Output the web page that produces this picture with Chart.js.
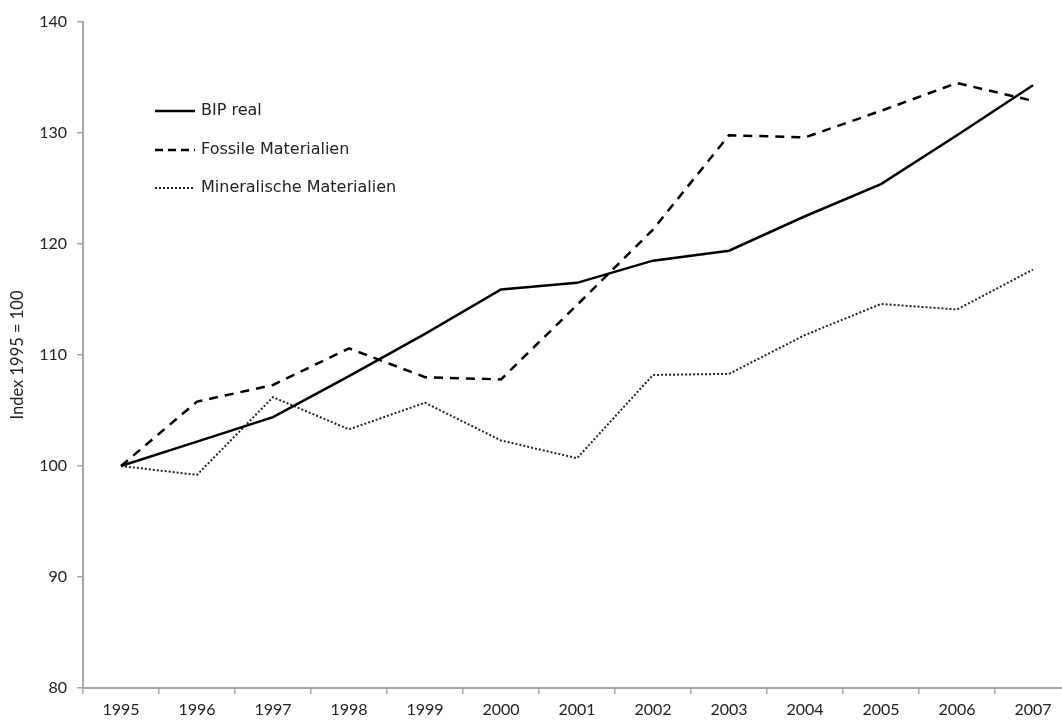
<!DOCTYPE html>
<html>
<head>
<meta charset="utf-8">
<script src="https://cdn.jsdelivr.net/npm/chart.js@4"></script>
<style>
  html, body { margin: 0; padding: 0; background: #fff; overflow: hidden; }
  #wrap { width: 1076px; height: 722px; }
</style>
</head>
<body>
<div id="wrap"><canvas id="chart"></canvas></div>
<script>
const years = ['1995', '1996', '1997', '1998', '1999', '2000', '2001', '2002', '2003', '2004', '2005', '2006', '2007'];
const bipReal = [100, 102.2, 104.4, 108.1, 111.9, 115.9, 116.5, 118.5, 119.4, 122.5, 125.4, 129.8, 134.3];
const fossile = [100, 105.8, 107.3, 110.6, 108.0, 107.8, 114.5, 121.3, 129.8, 129.6, 132.0, 134.5, 132.9];
const mineral = [100, 99.2, 106.2, 103.3, 105.7, 102.3, 100.7, 108.2, 108.3, 111.8, 114.6, 114.1, 117.7];
const yTicks = [80, 90, 100, 110, 120, 130, 140];

const FONT = 'Lato, "Liberation Sans", sans-serif';
const WIDE = '"DejaVu Sans", sans-serif';
const axisGrey = '#a6a6a6';

// legend drawn inside the plot, top-left
const innerLegend = {
  id: 'innerLegend',
  afterDraw(chart) {
    const ctx = chart.ctx;
    ctx.save();
    ctx.font = '16px ' + WIDE;
    ctx.textBaseline = 'middle';
    ctx.fillStyle = '#222';
    const rows = [111, 150, 188];
    chart.data.datasets.forEach((ds, i) => {
      const y = rows[i];
      ctx.strokeStyle = ds.borderColor;
      ctx.lineWidth = ds.borderWidth;
      ctx.setLineDash(i === 1 ? [8, 5] : (ds.borderDash || []));
      ctx.beginPath();
      ctx.moveTo(155, y);
      ctx.lineTo(195, y);
      ctx.stroke();
      ctx.setLineDash([]);
      ctx.fillText(ds.label, 201, y);
    });
    ctx.restore();
  }
};

new Chart(document.getElementById('chart'), {
  type: 'line',
  data: {
    labels: years,
    datasets: [
      { label: 'BIP real', data: bipReal, borderColor: '#000', borderWidth: 2.5 },
      { label: 'Fossile Materialien', data: fossile, borderColor: '#000', borderWidth: 2.5, borderDash: [9, 7] },
      { label: 'Mineralische Materialien', data: mineral, borderColor: '#222', borderWidth: 2, borderDash: [2, 2] }
    ]
  },
  options: {
    responsive: true,
    maintainAspectRatio: false,
    animation: false,
    elements: { point: { radius: 0 }, line: { tension: 0, fill: false } },
    layout: { padding: { top: 22, right: 5, left: 0, bottom: 0 } },
    plugins: { legend: { display: false }, tooltip: { enabled: false } },
    scales: {
      x: {
        offset: true,
        grid: { offset: true, drawOnChartArea: false, drawTicks: true, tickLength: 6, color: axisGrey, lineWidth: 1.5 },
        border: { color: axisGrey, width: 2 },
        ticks: { color: '#222', font: { family: FONT, size: 16 }, padding: 6, maxRotation: 0, autoSkip: false },
        afterFit(scale) { scale.height = 34; }
      },
      y: {
        min: 80,
        max: 140,
        afterBuildTicks(scale) { scale.ticks = yTicks.map(v => ({ value: v })); },
        grid: { drawOnChartArea: false, drawTicks: true, tickLength: 6, color: axisGrey, lineWidth: 1.5 },
        border: { color: axisGrey, width: 2 },
        ticks: { color: '#222', font: { family: FONT, size: 16 }, padding: 10 },
        title: { display: true, text: 'Index 1995 = 100', color: '#222', font: { family: FONT, size: 16.5 }, padding: { top: 8, bottom: 0 } },
        afterFit(scale) { scale.width = 83; }
      }
    }
  },
  plugins: [innerLegend]
});
</script>
</body>
</html>
